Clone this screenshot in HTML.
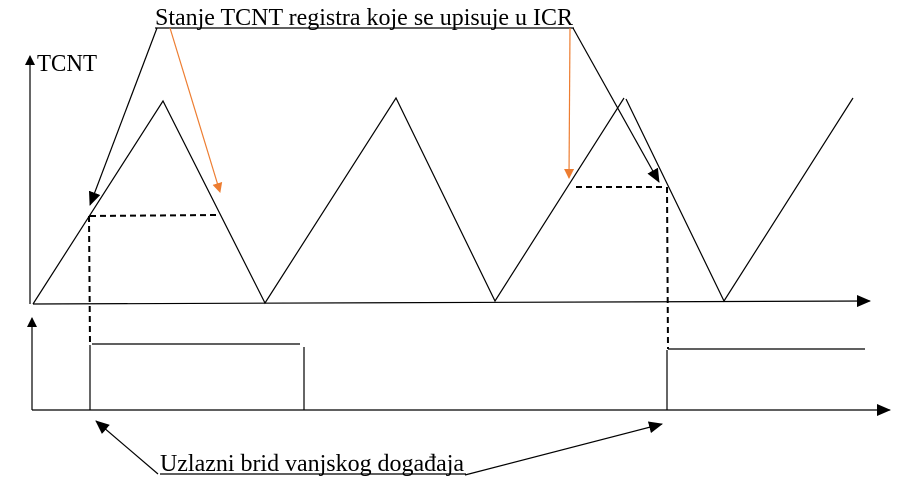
<!DOCTYPE html>
<html><head><meta charset="utf-8"><style>
html,body{margin:0;padding:0;background:#fff;}
svg{display:block;}
text{font-family:"Liberation Serif",serif;font-size:24px;fill:#000;}
</style></head><body>
<svg width="900" height="482" viewBox="0 0 900 482" xmlns="http://www.w3.org/2000/svg">
<defs>
<marker id="ab" markerWidth="10" markerHeight="10" refX="9" refY="5" orient="auto" markerUnits="userSpaceOnUse"><path d="M0,0 L10,5 L0,10 z" fill="#000"/></marker>
<marker id="ao" markerWidth="10" markerHeight="10" refX="9" refY="5" orient="auto" markerUnits="userSpaceOnUse"><path d="M0,0 L10,5 L0,10 z" fill="#ed7d31"/></marker>
<marker id="abig" markerWidth="14" markerHeight="12" refX="13" refY="6" orient="auto" markerUnits="userSpaceOnUse"><path d="M0,0 L14,6 L0,12 z" fill="#000"/></marker>
</defs>
<g stroke="#000" stroke-width="1.2" fill="none">
<line x1="30" y1="304" x2="30" y2="56" marker-end="url(#ab)"/>
<line x1="33" y1="304" x2="870" y2="301" marker-end="url(#abig)"/>
<polyline points="33,304 163,101 265,303 396,98 495,301 624,98"/>
<polyline points="626,99 724,301 853,98"/>
<line x1="157" y1="28" x2="90" y2="205" marker-end="url(#abig)"/>
<line x1="573" y1="28" x2="659" y2="182" marker-end="url(#abig)"/>
<line x1="32" y1="410" x2="32" y2="318" marker-end="url(#ab)"/>
<line x1="32" y1="410" x2="890" y2="410" marker-end="url(#abig)"/>
<polyline points="90,410 90,345"/>
<line x1="92" y1="344" x2="300" y2="344"/>
<line x1="304" y1="347" x2="304" y2="410"/>
<line x1="667" y1="350" x2="667" y2="410"/>
<line x1="668" y1="349" x2="865" y2="349"/>
<line x1="158" y1="474" x2="96" y2="421" marker-end="url(#abig)"/>
<line x1="465" y1="475" x2="662" y2="424" marker-end="url(#abig)"/>
<line x1="155" y1="28" x2="574" y2="28"/>
<line x1="160" y1="474" x2="466" y2="474"/>
</g>
<g stroke="#000" stroke-width="2" stroke-dasharray="6,4" fill="none">
<line x1="90" y1="216" x2="217" y2="215"/>
<line x1="89" y1="216" x2="90" y2="345"/>
<line x1="576" y1="187" x2="666" y2="187"/>
<line x1="667" y1="187" x2="668" y2="349"/>
</g>
<g stroke="#ed7d31" stroke-width="1.2" fill="none">
<line x1="170" y1="28" x2="220" y2="192" marker-end="url(#ao)"/>
<line x1="570" y1="28" x2="569" y2="178" marker-end="url(#ao)"/>
</g>
<text x="155" y="25" textLength="418" lengthAdjust="spacingAndGlyphs">Stanje TCNT registra koje se upisuje u ICR</text>
<text x="37" y="71" textLength="60" lengthAdjust="spacingAndGlyphs">TCNT</text>
<text x="160" y="471" textLength="304" lengthAdjust="spacingAndGlyphs">Uzlazni brid vanjskog događaja</text>
</svg>
</body></html>
